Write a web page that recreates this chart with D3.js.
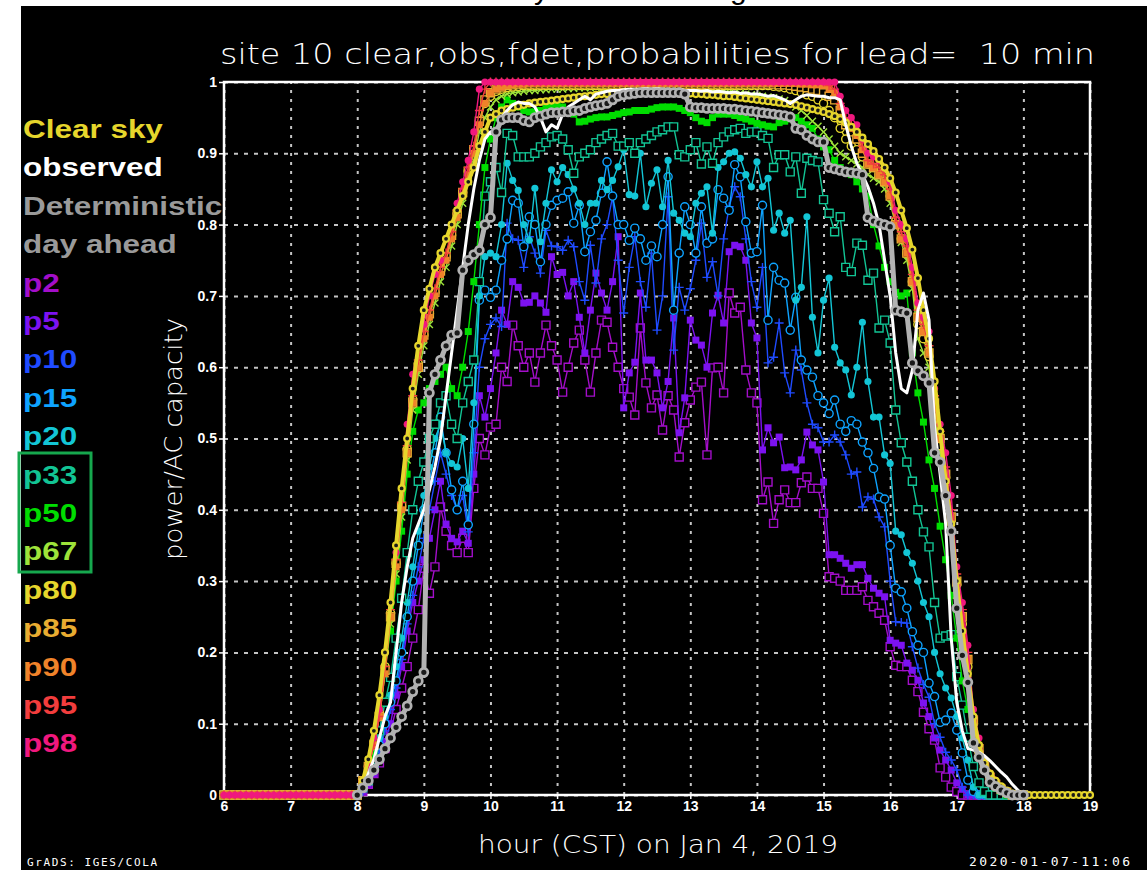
<!DOCTYPE html>
<html>
<head>
<meta charset="utf-8">
<script src="https://cdn.jsdelivr.net/npm/d3@7"></script>
<style>
body { margin: 0; background: #fff; }
svg { display: block; }
</style>
</head>
<body>
<svg id="chart" width="1147" height="870"></svg>
<script>
// values are percent of AC capacity, one every 5 minutes
// p-series start at 6:00, clear sky / observed / deterministic start at 8:00

var hourTicks = [6, 7, 8, 9, 10, 11, 12, 13, 14, 15, 16, 17, 18, 19];
var valueTicks = [0, 0.1, 0.2, 0.3, 0.4, 0.5, 0.6, 0.7, 0.8, 0.9, 1];
var valueLabels = ["0", "0.1", "0.2", "0.3", "0.4", "0.5", "0.6", "0.7", "0.8", "0.9", "1"];

var legendLabels = ["Clear sky", "observed", "Deterministic", "day ahead", "p2", "p5", "p10", "p15", "p20", "p33", "p50", "p67", "p80", "p85", "p90", "p95", "p98"];
var legendColors = ["#e6d62c", "#ffffff", "#9a9a9a", "#9a9a9a", "#a30ec9", "#7c12f0", "#1f4bff", "#0ea3ff", "#13c6d6", "#12c494", "#00dd00", "#9ee33a", "#e6d62c", "#e8ac31", "#f0832a", "#f23d3d", "#f0187e"];

var p2 = [0,0,0,0,0,0,0,0,0,0,0,0, 0,0,0,0,0,0,0,0,0,0,0,0,
  0,0.5,1.5,3,4.5,6.5,9,12,15,18,22,26,
  31.8,28.3,32,40.4,37,35,34,36,34,43,50,47.7,
  51.6,52,60,58,65.9,63,60,62,57.9,62,65.9,63,
  61,56.5,60,63.4,65.2,61,56.5,62,66.6,66.3,62.8,60,
  57,55.8,53.3,65.5,57.8,54.3,56.1,51.2,56,54,47.4,52.2,
  55.4,57.2,57.9,47.7,59.9,60,56.4,70.4,67.6,68.4,59.6,56.4,
  55,41.4,43.9,38.1,41.4,42.8,41,41,43.8,44.6,43,43,
  39.5,30.6,30.4,30,28.7,28.7,28.7,29.2,27.3,26.4,25.5,24.5,
  20.8,18.2,18,18,16.1,14.5,11.6,9.3,7.7,3.8,2.5,1.1,
  0.5,0,0,0,0,0,0,0,0,0,0,0,
  0];

var p5 = [0,0,0,0,0,0,0,0,0,0,0,0, 0,0,0,0,0,0,0,0,0,0,0,0,
  0,0.5,1.5,3,5,7.5,10,14,18,23,27,30,
  33,36,40,44,38,36,35.5,37,35.3,45,56,53,
  57,62,68,66,72,71.2,69,69.1,70,69,67.7,75.5,
  73,73.3,70,72,67,62,68,73.2,70.4,68,72,78.3,
  54.3,59.2,60.7,70.4,61,61,59.2,54.3,58,66.9,50.8,55.7,
  66.6,63.8,63.1,60,67.6,70.1,66.2,76.2,77.1,76.9,75,66.2,
  64.1,48.4,51.5,49.4,50.2,45.9,46,45.6,47,50.9,49.1,48.4,
  43.9,33.7,33.7,33.2,32.5,31.8,32.3,32.3,30.4,29,28.3,27.8,
  21.7,21.3,21,18.5,17.5,16.1,12.9,11,8,6.3,4.9,3.5,
  1.7,0.8,0,0,0,0,0,0,0,0,0,0,
  0];

var p10 = [0,0,0,0,0,0,0,0,0,0,0,0, 0,0,0,0,0,0,0,0,0,0,0,0,
  0,0.5,2,4,6,9,12,15,19,24,28,32,
  36,40,44,48,45,42,40,42,36.9,48,60,64,
  66,66.9,65.7,80.2,78,77.8,74,78.3,76,73.2,79.2,77,
  76.9,76.4,77.8,76.9,72,69.4,77.1,71.8,78,80,83.9,75,
  67.6,74,78.3,72,68.4,76,65.2,70,83.9,62.4,71.2,68,
  71,75,80.2,72.6,74.8,70,78,82.5,85.3,83.9,78,72,
  68.4,74,60.6,61.4,66.2,59.2,56.4,62.4,59.6,55,52,51.5,
  49.5,49.5,50.5,49.5,47.7,45,45.3,40.4,41.8,41.5,39,37.6,
  30,24.3,24.2,24.1,20.8,17.8,15.5,13.7,10,8.1,6,4.9,
  3.5,1.1,0,0,0,0,0,0,0,0,0,0,
  0];

var p15 = [0,0,0,0,0,0,0,0,0,0,0,0, 0,0,0,0,0,0,0,0,0,0,0,0,
  0,1,2,4,7,10,13,16,20,25,30,35,
  40,44,48,53,48,42.8,40,44,37.9,52,69.4,70.8,
  69.8,70.8,75,78,83.4,83,76.9,81.1,80,74.8,80,82.7,
  83.4,83.7,84.6,80.2,82.7,76.2,79,80.6,84.4,88.8,84,80,
  80,77.8,79.5,78,75,77,75.5,80,86.7,68,76,82.5,
  80,76,82.5,77.4,78,84.9,83.7,82,88.4,86.7,80.4,76,
  76.2,82.7,66.6,74,72.2,71.8,65.2,69.8,61,59.6,58.6,56,
  55,53.5,55.4,52,51,52.5,52,49.5,48,45.8,41.8,41.5,
  35,29,28.5,26.2,22.9,21,20,15.7,13.8,10.2,10.5,11.5,
  9.1,5.9,2.1,0.5,0,0,0,0,0,0,0,0,
  0];

var p20 = [0,0,0,0,0,0,0,0,0,0,0,0, 0,0,0,0,0,0,0,0,0,0,0,0,
  0,1,2.5,5,8,11,14,18,22,27,32,37,
  42,46,50,52,48,46.5,46,50,43,55,70,75.5,
  76,75.5,80,88.6,86.2,84.8,80,77.8,85.1,77.6,83,87.7,
  86,88,87,85,83,80,83,83,86.2,84.9,86.2,88.1,
  90.5,84.2,84,90,82.5,85.8,87.7,82.5,89,81.6,80.6,78.8,
  78.3,83,84.4,85.3,78.8,88,88.8,90,90.2,89.3,87,85.3,
  88.8,85.3,86.5,79.2,81.6,78.8,80.6,69.4,71.2,81.1,67,62,
  69.4,72.5,62.8,60.6,59.6,56.1,60,66.3,58,53,53,47.7,
  46.5,37,36.5,34,32.5,30,27,25,20,17,15,13.6,
  11,8,4.9,1.1,0,0,0,0,0,0,0,0,
  0];

var p33 = [0,0,0,0,0,0,0,0,0,0,0,0, 0,0,0,0,0,0,0,0,0,0,0,0,
  0,1,2,5,9,13,16.5,22,27.6,34,40,44,
  46.7,50,52,55,56,52,50,55,58,61,72,84,
  86,88,84.5,92.8,92.5,89.5,89.5,89.5,90,90.9,91.5,92.3,
  92.5,92,90.5,87.2,89.5,90,90.5,91.5,92,92.5,92.8,91,
  91,91.5,90,91.5,92,92.5,93,93.3,93.7,93.7,89.8,89.5,
  90.5,91.5,88.5,90.9,88.6,91.5,92.3,93,93.3,93.5,92.8,93,
  93,92.5,92.1,88,89.8,89.8,87.4,89.5,84.4,89.3,89,88.8,
  83.5,81.6,79,81.1,74,73.4,77.4,77.1,72.2,73.2,65.5,66.6,
  63.4,54,49.4,46.7,44,40,36.9,34.8,27,22,22.3,22.5,
  16.6,12.6,8.1,4,1.7,0.5,0,0,0,0,0,0,
  0];

var p50 = [0,0,0,0,0,0,0,0,0,0,0,0, 0,0,0,0,0,0,0,0,0,0,0,0,
  0,1,3,6,12,18,23,30,37,45,51,54,
  55,57,58,59,60,57,56,60,65,72,80,88,
  92,95,96.5,97.5,97,96.5,96,95.8,95.8,96,96.3,96.5,
  96.8,96.5,96,95.5,94.4,94.5,94.8,95,95.1,95.1,95.3,95.5,
  95.7,95.8,96,96,96,96.2,96.4,96.5,96.5,96.5,96.3,96,
  95.7,95,94.5,94.3,95,95.5,95.5,95.5,95.3,95,94.8,94.5,
  94.2,94,93.8,93.7,94.3,94.5,94.8,95,94.5,94,93.5,92,
  90.9,90.5,89,88,87.5,87,86,85,84,80,77,74,
  72,70.5,70,70.4,62,56.4,52.3,47,43,37.7,33,28,
  22,16,12,8,5.5,4,2,1,0.5,0,0,0,
  0];

var p67 = [0,0,0,0,0,0,0,0,0,0,0,0, 0,0,0,0,0,0,0,0,0,0,0,0,
  0,1.5,4,7,11,17,24,31,39,47,54,59,
  63,66,69,72,74,77,80,83,86,89,93,95,
  96.5,97.5,98,98.3,98.5,98.6,98.7,98.8,98.8,98.9,98.9,99,
  99,99,99.1,99.1,99.2,99.2,99.2,99.3,99.3,99.3,99.3,99.3,
  99.3,99.3,99.3,99.3,99.3,99.3,99.2,99.2,99.2,99.2,99.1,99.1,
  99,99,98.9,98.9,98.8,98.8,98.7,98.6,98.5,98.4,98.3,98.2,
  98.1,98,97.9,97.8,97.6,97.4,97,96.5,96,95.3,94.5,93.8,
  93,92,91,90,89.5,89,88.5,88,87,86.5,86,85,
  83,80,77.5,75,71,64,62,60,53,48,43,37,
  28,22,17,9,5.5,3.5,2,1.2,0.6,0.2,0,0,
  0];

var p80 = [0,0,0,0,0,0,0,0,0,0,0,0, 0,0,0,0,0,0,0,0,0,0,0,0,
  0,2,4,7.5,11.5,18,25.5,32.5,40.5,48.5,55.5,60.5,
  64.5,67.5,70.5,73.5,75.5,78.5,81.5,84.5,87.5,90.5,94.5,97,
  98,98.7,99,99.2,99.3,99.4,99.5,99.5,99.5,99.5,99.5,99.5,
  99.5,99.5,99.5,99.5,99.5,99.5,99.5,99.5,99.5,99.5,99.5,99.5,
  99.5,99.5,99.5,99.5,99.5,99.5,99.5,99.5,99.5,99.5,99.5,99.5,
  99.5,99.5,99.5,99.5,99.5,99.5,99.5,99.5,99.5,99.5,99.5,99.5,
  99.5,99.5,99.5,99.4,99.3,99.2,99,98.8,98.5,98.2,98,97.5,
  97,96,95,93.5,92,91,90.5,89.5,88.5,88,87,86,
  84,80.5,78,76,72,66,64,61.5,54,49,44.5,38.5,
  29.5,24,18,10,6,4,2.5,1.5,0.8,0.3,0,0,
  0];

var p85 = [0,0,0,0,0,0,0,0,0,0,0,0, 0,0,0,0,0,0,0,0,0,0,0,0,
  0,2,4,7,11,17.5,25,32.5,40.5,48,55,60,
  64.5,67.5,70.5,73.5,75.5,78.5,81.5,84.5,87.5,90.5,94.5,97.5,
  98.5,99,99.3,99.5,99.6,99.7,99.7,99.7,99.7,99.7,99.7,99.7,
  99.7,99.7,99.7,99.7,99.7,99.7,99.7,99.7,99.7,99.7,99.7,99.7,
  99.7,99.7,99.7,99.7,99.7,99.7,99.7,99.7,99.7,99.7,99.7,99.7,
  99.7,99.7,99.7,99.7,99.7,99.7,99.7,99.7,99.7,99.7,99.7,99.7,
  99.7,99.7,99.7,99.7,99.6,99.6,99.5,99.4,99.3,99.2,99,98.8,
  98.5,98,97.5,96,94,93,92,90,88.5,88,87,86,
  84,80,78,76,72,67,65,62,55,50,45,39,
  30,25,19,10.5,6.5,4,2.5,1.5,0.8,0.4,0,0,
  0];

var p90 = [0,0,0,0,0,0,0,0,0,0,0,0, 0,0,0,0,0,0,0,0,0,0,0,0,
  0,2,4,7,11,17,25,32,40,48,55,60,
  64,67,70,73,75,78,81,84,87,90,94,97,
  98.5,99,99.3,99.5,99.6,99.7,99.7,99.8,99.8,99.8,99.8,99.8,
  99.8,99.8,99.8,99.8,99.8,99.8,99.8,99.8,99.8,99.8,99.8,99.8,
  99.8,99.8,99.8,99.8,99.8,99.8,99.8,99.8,99.8,99.8,99.8,99.8,
  99.8,99.8,99.8,99.8,99.8,99.8,99.8,99.8,99.8,99.8,99.8,99.8,
  99.8,99.8,99.8,99.8,99.8,99.8,99.8,99.8,99.7,99.7,99.6,99.6,
  99.5,99,98.5,96.5,94.5,93.5,92.5,90.5,88.5,88,87,86,
  84,80,78,76,72,67,65,62,55,50,45,39,
  30,25,19,10.5,6.5,4,2.5,1.5,1,0.5,0,0,
  0];

var p95 = [0,0,0,0,0,0,0,0,0,0,0,0, 0,0,0,0,0,0,0,0,0,0,0,0,
  0,2,4,7,11,18,26,33,41,49,56,61,
  65,68,71,74,76,79,82,85,88,91,96,99,
  100,100,100,100,100,100,100,100,100,100,100,100,
  100,100,100,100,100,100,100,100,100,100,100,100,
  100,100,100,100,100,100,100,100,100,100,100,100,
  100,100,100,100,100,100,100,100,100,100,100,100,
  100,100,100,100,100,100,100,100,100,100,100,100,
  100,99.5,99,97,95,94,93,91,89,88.5,88,87,
  85,81,79,77,73,68,66,63,56,51,46,40,
  31,26,20,11,7,4.5,3,2,1,0.5,0,0,
  0];

var p98 = [0,0,0,0,0,0,0,0,0,0,0,0, 0,0,0,0,0,0,0,0,0,0,0,0,
  0,2,4,8,12,20,27,34,43,52,59,63,
  66,70,73,75,78,80,83,86,89,93,99,100,
  100,100,100,100,100,100,100,100,100,100,100,100,
  100,100,100,100,100,100,100,100,100,100,100,100,
  100,100,100,100,100,100,100,100,100,100,100,100,
  100,100,100,100,100,100,100,100,100,100,100,100,
  100,100,100,100,100,100,100,100,100,100,100,100,
  100,100,100,98,96,95,94,92,90,89.5,89,88,
  86,82,80,78,74,69,67,65,57,52,48,42,
  32,27,21,12,8,5,3,2,1,0.5,0,0,
  0];

var clearSky = [
  0,2,5,9,14,20,27,35,43,50,57,63,
  68,71,74,76,78,80,82,84,86,88,91,93,
  95,95.5,96,96.2,96.4,96.6,96.8,97,97.1,97.2,97.3,97.4,
  97.5,97.6,97.7,97.8,97.9,98,98.1,98.2,98.3,98.3,98.4,98.4,
  98.5,98.5,98.5,98.5,98.5,98.5,98.5,98.5,98.5,98.5,98.4,98.4,
  98.4,98.3,98.3,98.2,98.2,98.1,98,98,97.9,97.8,97.7,97.6,
  97.5,97.4,97.3,97.2,97.1,97,96.9,96.8,96.6,96.4,96.2,96,
  95.8,95.5,95.2,94.8,94.3,93.7,93,92.2,91.3,90.3,89.2,88,
  86.5,84.5,82,79.5,76.5,72.5,68,64,58,51,44,38,
  30,23,17,11,7,4.5,3,2,1.2,0.6,0.2,0,
  0,0,0,0,0,0,0,0,0,0,0,0,0];

var observed = [
  0,1,3,5,8,11,13,20,27,32,36,38,
  40,42.8,46,50,56,62,68,74,80,85,89,92,
  93,92.3,95,96,96.8,97.2,97,97,96.5,95,93,94,
  93.5,95.5,96.5,97,97.5,98,97.5,98.3,98.5,98.7,98.8,98.8,
  98.9,99,99,99,99.1,99,99.1,99,99,98.9,99,98.8,
  98.8,98.8,98.7,98.8,98.6,98.7,98.6,98.5,98.6,98.4,98.5,98.3,
  98.3,98.2,98,98.1,97.8,97.5,97,97.5,98,98.2,98.1,98,
  98,97.8,97.8,97.5,94,91,88.6,87,85.3,83,80,75,
  70,62,57,56.4,59.6,68,70.4,66.6,51.6,45,38,22,
  13,9,6.5,6.3,6,5.5,4.8,4,3.2,2.5,1.5,0.7,
  0];

var determ = [
  0,1,2,3.5,5,6.5,8,9.5,11,12.5,14.5,16,
  17.2,56.4,59,61,63,64.5,64.8,73.6,75,75.8,76.4,80,
  81,93,94.7,95,95,95,94.6,94.4,95,95.2,95.5,95.7,
  95.7,95.8,95.8,96,96,96.3,96.5,96.7,96.8,97,97.5,98,
  98.2,98.3,98.4,98.5,98.5,98.5,98.5,98.5,98.5,98.5,98.5,98.3,
  96.5,96.4,96.4,96.3,96.3,96.3,96.3,96.2,96.2,96.1,96,95.9,
  95.8,95.7,95.6,95.5,95.4,95.3,95.1,93.5,93.3,92.5,92,91.6,
  91.6,88,87.8,87.6,87.4,87.3,87.2,87,81,80.5,80.2,80,
  79.7,68,67.8,67.6,60.6,59.5,58.8,57.8,48,46.7,42,37,
  26.2,19.6,15.8,7.3,5.3,3.5,1.8,1.2,0.7,0.3,0,0,
  0];

var step = 5 / 60;

var series = [
  {vals: p2,  start: 6, color: "#a30ec9", mark: "osq",   w: 1.4},
  {vals: p5,  start: 6, color: "#7c12f0", mark: "fsq",   w: 1.4},
  {vals: p10, start: 6, color: "#1f4bff", mark: "plus",  w: 1.4},
  {vals: p15, start: 6, color: "#0ea3ff", mark: "ocirc", w: 1.4},
  {vals: p20, start: 6, color: "#13c6d6", mark: "fcirc", w: 1.4},
  {vals: p33, start: 6, color: "#12c494", mark: "osq",   w: 1.4},
  {vals: p50, start: 6, color: "#00dd00", mark: "fsq",   w: 1.4},
  {vals: p67, start: 6, color: "#9ee33a", mark: "x",     w: 1.4},
  {vals: p80, start: 6, color: "#e6d62c", mark: "ocirc", w: 1.4},
  {vals: p85, start: 6, color: "#e8ac31", mark: "osq",   w: 1.4},
  {vals: p90, start: 6, color: "#f0832a", mark: "fsq",   w: 1.4},
  {vals: p95, start: 6, color: "#f23d3d", mark: "plus",  w: 1.4},
  {vals: p98, start: 6, color: "#f0187e", mark: "fcirc", w: 1.4},
  {vals: clearSky, start: 8, color: "#e6d62c", mark: "ring", w: 4, r: 3},
  {vals: observed, start: 8, color: "#ffffff", mark: null,   w: 3},
  {vals: determ,   start: 8, color: "#b2b2b2", mark: "ring", w: 5, r: 4}
];

var plot = {left: 224, right: 1090, top: 82, bottom: 795};

var svg = d3.select("#chart");

// black page behind the plot
svg.append("rect")
    .attr("x", 21).attr("y", 6)
    .attr("width", 1126).attr("height", 864)
    .attr("fill", "#000");

// cut off letters of the slide title above
svg.append("text").attr("x", 534).attr("y", -1)
    .attr("font-family", "Liberation Sans, Arial").attr("font-size", 30)
    .attr("fill", "#000").text("y");
svg.append("text").attr("x", 730).attr("y", -1)
    .attr("font-family", "Liberation Sans, Arial").attr("font-size", 30)
    .attr("fill", "#000").text("g");

var x = d3.scaleLinear().domain([6, 19]).range([plot.left, plot.right]);
var y = d3.scaleLinear().domain([0, 1]).range([plot.bottom, plot.top]);

// dotted grid
svg.append("g")
    .attr("transform", "translate(0," + plot.bottom + ")")
    .call(d3.axisBottom(x).tickValues(hourTicks).tickSize(-(plot.bottom - plot.top)).tickFormat(""))
    .call(g => g.select(".domain").remove())
    .selectAll("line")
        .attr("stroke", "#c4c4c4")
        .attr("stroke-width", 2)
        .attr("stroke-dasharray", "3,6");

svg.append("g")
    .attr("transform", "translate(" + plot.left + ",0)")
    .call(d3.axisLeft(y).tickValues(valueTicks).tickSize(-(plot.right - plot.left)).tickFormat(""))
    .call(g => g.select(".domain").remove())
    .selectAll("line")
        .attr("stroke", "#c4c4c4")
        .attr("stroke-width", 2)
        .attr("stroke-dasharray", "4,6");

// frame
svg.append("rect")
    .attr("x", plot.left).attr("y", plot.top)
    .attr("width", plot.right - plot.left).attr("height", plot.bottom - plot.top)
    .attr("fill", "none").attr("stroke", "#fff").attr("stroke-width", 2.5);

// axes with labels
var xAxis = svg.append("g")
    .attr("transform", "translate(0," + plot.bottom + ")")
    .call(d3.axisBottom(x).tickValues(hourTicks).tickSize(4).tickPadding(2).tickFormat(d3.format("d")));
var yAxis = svg.append("g")
    .attr("transform", "translate(" + plot.left + ",0)")
    .call(d3.axisLeft(y).tickValues(valueTicks).tickSize(5).tickPadding(2)
        .tickFormat((d, i) => valueLabels[i]));

[xAxis, yAxis].forEach(function(ax) {
    ax.select(".domain").remove();
    ax.selectAll("line").attr("stroke", "#fff").attr("stroke-width", 1.5);
    ax.selectAll("text")
        .attr("fill", "#fff")
        .attr("font-family", "Liberation Sans, Arial")
        .attr("font-weight", "bold")
        .attr("font-size", 14);
});

// marker shapes
function markerPath(type) {
    if (type == "osq") return "M-4,-4H4V4H-4Z";
    if (type == "fsq") return "M-3.5,-3.5H3.5V3.5H-3.5Z";
    if (type == "plus") return "M-4.5,0H4.5M0,-4.5V4.5";
    if (type == "x") return "M-3.5,-3.5L3.5,3.5M-3.5,3.5L3.5,-3.5";
    if (type == "ocirc") return d3.symbol(d3.symbolCircle, 52)();
    if (type == "fcirc") return d3.symbol(d3.symbolCircle, 40)();
    return "";
}

series.forEach(function(s) {
    var line = d3.line()
        .x((d, i) => x(s.start + i * step))
        .y(d => y(d / 100));

    var g = svg.append("g");

    g.append("path")
        .datum(s.vals)
        .attr("d", line)
        .attr("fill", "none")
        .attr("stroke", s.color)
        .attr("stroke-width", s.w)
        .attr("stroke-linejoin", "round");

    if (!s.mark) return;

    if (s.mark == "ring") {
        g.selectAll("circle")
            .data(s.vals)
            .enter().append("circle")
                .attr("cx", (d, i) => x(s.start + i * step))
                .attr("cy", d => y(d / 100))
                .attr("r", s.r)
                .attr("fill", "#1a1a1a")
                .attr("stroke", s.color)
                .attr("stroke-width", s.w * 0.55);
        return;
    }

    var filled = (s.mark == "fsq" || s.mark == "fcirc");
    g.selectAll(".mk")
        .data(s.vals)
        .enter().append("path")
            .attr("class", "mk")
            .attr("transform", (d, i) => "translate(" + x(s.start + i * step) + "," + y(d / 100) + ")")
            .attr("d", markerPath(s.mark))
            .attr("fill", filled ? s.color : (s.mark == "plus" || s.mark == "x" ? "none" : "#000"))
            .attr("stroke", filled ? "none" : s.color)
            .attr("stroke-width", 1.4);
});

// titles, thin lettering like the GrADS stroke font
var thinFont = "DejaVu Sans, Roboto, Liberation Sans, Arial";

svg.append("text")
    .attr("x", 220).attr("y", 64)
    .attr("font-family", thinFont)
    .attr("font-weight", 200)
    .attr("font-size", 29)
    .attr("fill", "#fff")
    .attr("textLength", 875)
    .attr("lengthAdjust", "spacingAndGlyphs")
    .attr("xml:space", "preserve")
    .text("site 10 clear,obs,fdet,probabilities for lead=  10 min");

svg.append("text")
    .attr("transform", "translate(182,439) rotate(-90)")
    .attr("text-anchor", "middle")
    .attr("font-family", thinFont)
    .attr("font-weight", 200)
    .attr("font-size", 25)
    .attr("fill", "#fff")
    .attr("textLength", 242)
    .attr("lengthAdjust", "spacingAndGlyphs")
    .text("power/AC capacity");

svg.append("text")
    .attr("x", 478).attr("y", 853)
    .attr("font-family", thinFont)
    .attr("font-weight", 200)
    .attr("font-size", 25)
    .attr("fill", "#fff")
    .attr("textLength", 360)
    .attr("lengthAdjust", "spacingAndGlyphs")
    .text("hour (CST) on Jan 4, 2019");

svg.append("text")
    .attr("x", 27).attr("y", 866)
    .attr("font-family", "DejaVu Sans Mono, monospace")
    .attr("font-size", 11)
    .attr("fill", "#fff")
    .attr("textLength", 130)
    .text("GrADS: IGES/COLA");

svg.append("text")
    .attr("x", 969).attr("y", 866)
    .attr("font-family", "DejaVu Sans Mono, monospace")
    .attr("font-size", 13)
    .attr("fill", "#fff")
    .attr("textLength", 161)
    .text("2020-01-07-11:06");

// legend on the left
svg.selectAll(".legend")
    .data(legendLabels)
    .enter().append("text")
        .attr("class", "legend")
        .attr("transform", (d, i) => "translate(23," + (138 + i * 38.4) + ") scale(1.21,1)")
        .attr("font-family", "Liberation Sans, Arial")
        .attr("font-weight", "bold")
        .attr("font-size", 26)
        .attr("fill", (d, i) => legendColors[i])
        .text(d => d);

svg.append("rect")
    .attr("x", 19).attr("y", 453)
    .attr("width", 72).attr("height", 119)
    .attr("fill", "none")
    .attr("stroke", "#16a84e")
    .attr("stroke-width", 3);
</script>
</body>
</html>
